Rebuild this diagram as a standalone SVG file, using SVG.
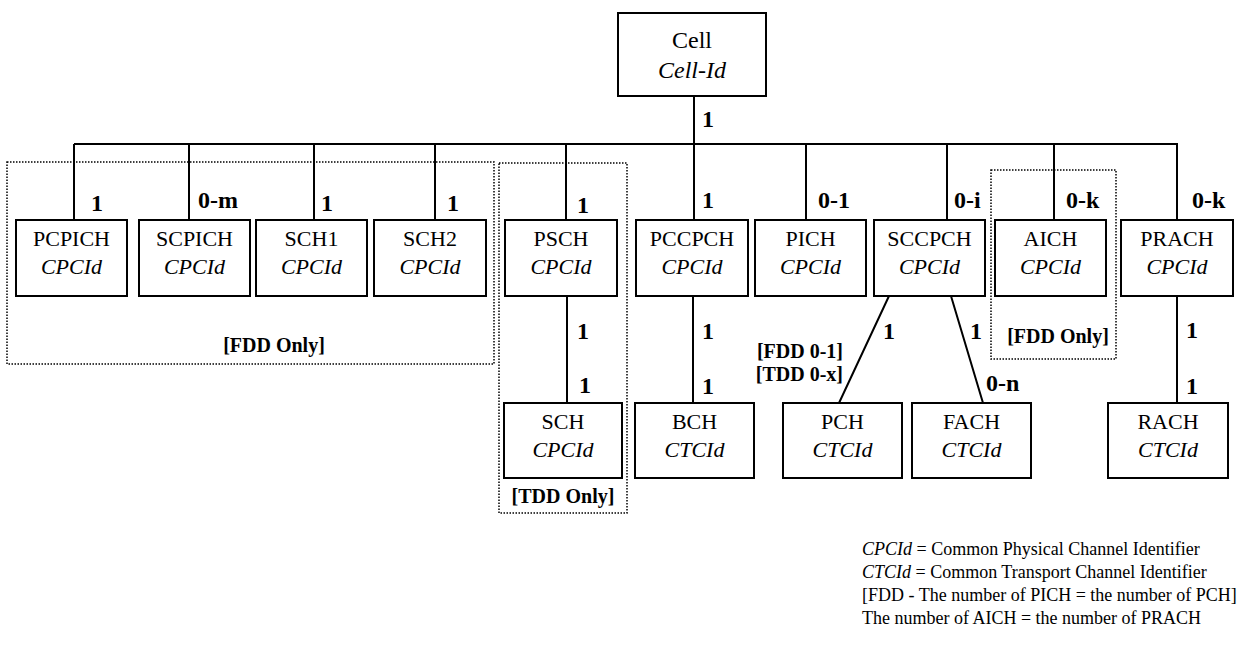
<svg xmlns="http://www.w3.org/2000/svg" width="1243" height="649" viewBox="0 0 1243 649">
<style>
.box{fill:#fff;stroke:#000;stroke-width:2}
.ln{stroke:#000;stroke-width:2;fill:none}
.dot{fill:none;stroke:#000;stroke-width:1.5;stroke-dasharray:1.5,1.5}
text{font-family:"Liberation Serif","Times New Roman",serif;fill:#000}
.nm{font-size:22px;text-anchor:middle}
.id{font-size:22px;font-style:italic;text-anchor:middle}
.big{font-size:24px}
.num{font-size:24px;font-weight:bold}
.note{font-size:20px;font-weight:bold}
.leg{font-size:18px}
</style>
<rect width="1243" height="649" fill="#fff"/>
<g id="regions">
<rect class="dot" x="7" y="162" width="487" height="202"/>
<text class="note" x="274" y="352" text-anchor="middle">[FDD Only]</text>
<rect class="dot" x="499" y="163" width="128" height="350"/>
<text class="note" x="563" y="503" text-anchor="middle">[TDD Only]</text>
<rect class="dot" x="991" y="170" width="125" height="189"/>
<text class="note" x="1058" y="343" text-anchor="middle">[FDD Only]</text>
</g>
<g id="connectors">
<path class="ln" d="M694 96V144M74 144H1178"/>
<path class="ln" d="M74 144V220M189 144V220M314 144V220M435 144V220M566 144V220M694 144V220M806 144V220M947 144V220M1054 144V220M1177 144V220"/>
<path class="ln" d="M567 296V403M693 296V403M1177 296V403M889 296L839 403M951 296L983 403"/>
<text class="num" x="702" y="127">1</text>
<text class="num" x="91" y="211">1</text>
<text class="num" x="198" y="208">0-m</text>
<text class="num" x="321" y="211">1</text>
<text class="num" x="447" y="211">1</text>
<text class="num" x="577" y="213">1</text>
<text class="num" x="702" y="208">1</text>
<text class="num" x="818" y="208">0-1</text>
<text class="num" x="954" y="208">0-i</text>
<text class="num" x="1066" y="208">0-k</text>
<text class="num" x="1192" y="208">0-k</text>
<text class="num" x="577" y="339">1</text>
<text class="num" x="579" y="393">1</text>
<text class="num" x="702" y="339">1</text>
<text class="num" x="702" y="394">1</text>
<text class="num" x="883" y="339">1</text>
<text class="num" x="970" y="339">1</text>
<text class="num" x="986" y="391">0-n</text>
<text class="num" x="1186" y="338">1</text>
<text class="num" x="1186" y="394">1</text>
<text class="note" x="843" y="358" text-anchor="end">[FDD 0-1]</text>
<text class="note" x="843" y="381" text-anchor="end">[TDD 0-x]</text>
</g>
<g id="cell"><rect class="box" x="618" y="13" width="148" height="83"/><text class="nm big" x="692" y="48">Cell</text><text class="id big" x="692" y="78">Cell-Id</text></g>
<g id="pcpich"><rect class="box" x="16" y="220" width="111" height="76"/><text class="nm" x="71.5" y="246">PCPICH</text><text class="id" x="71.5" y="274">CPCId</text></g>
<g id="scpich"><rect class="box" x="139" y="220" width="111" height="76"/><text class="nm" x="194.5" y="246">SCPICH</text><text class="id" x="194.5" y="274">CPCId</text></g>
<g id="sch1"><rect class="box" x="256" y="220" width="111" height="76"/><text class="nm" x="311.5" y="246">SCH1</text><text class="id" x="311.5" y="274">CPCId</text></g>
<g id="sch2"><rect class="box" x="374" y="220" width="112" height="76"/><text class="nm" x="430" y="246">SCH2</text><text class="id" x="430" y="274">CPCId</text></g>
<g id="psch"><rect class="box" x="505" y="220" width="112" height="76"/><text class="nm" x="561" y="246">PSCH</text><text class="id" x="561" y="274">CPCId</text></g>
<g id="pccpch"><rect class="box" x="636" y="220" width="112" height="76"/><text class="nm" x="692" y="246">PCCPCH</text><text class="id" x="692" y="274">CPCId</text></g>
<g id="pich"><rect class="box" x="755" y="220" width="111" height="76"/><text class="nm" x="810.5" y="246">PICH</text><text class="id" x="810.5" y="274">CPCId</text></g>
<g id="sccpch"><rect class="box" x="874" y="220" width="111" height="76"/><text class="nm" x="929.5" y="246">SCCPCH</text><text class="id" x="929.5" y="274">CPCId</text></g>
<g id="aich"><rect class="box" x="995" y="220" width="111" height="76"/><text class="nm" x="1050.5" y="246">AICH</text><text class="id" x="1050.5" y="274">CPCId</text></g>
<g id="prach"><rect class="box" x="1121" y="220" width="112" height="76"/><text class="nm" x="1177" y="246">PRACH</text><text class="id" x="1177" y="274">CPCId</text></g>
<g id="sch"><rect class="box" x="504" y="403" width="118" height="75"/><text class="nm" x="563" y="429">SCH</text><text class="id" x="563" y="457">CPCId</text></g>
<g id="bch"><rect class="box" x="635" y="403" width="119" height="75"/><text class="nm" x="694.5" y="429">BCH</text><text class="id" x="694.5" y="457">CTCId</text></g>
<g id="pch"><rect class="box" x="783" y="403" width="119" height="75"/><text class="nm" x="842.5" y="429">PCH</text><text class="id" x="842.5" y="457">CTCId</text></g>
<g id="fach"><rect class="box" x="912" y="403" width="119" height="75"/><text class="nm" x="971.5" y="429">FACH</text><text class="id" x="971.5" y="457">CTCId</text></g>
<g id="rach"><rect class="box" x="1108" y="403" width="120" height="75"/><text class="nm" x="1168" y="429">RACH</text><text class="id" x="1168" y="457">CTCId</text></g>
<g id="legend">
<text class="leg" x="862" y="555"><tspan font-style="italic">CPCId</tspan> = Common Physical Channel Identifier</text>
<text class="leg" x="862" y="578"><tspan font-style="italic">CTCId</tspan> = Common Transport Channel Identifier</text>
<text class="leg" x="862" y="601">[FDD - The number of PICH = the number of PCH]</text>
<text class="leg" x="862" y="624">The number of AICH = the number of PRACH</text>
</g>
</svg>
